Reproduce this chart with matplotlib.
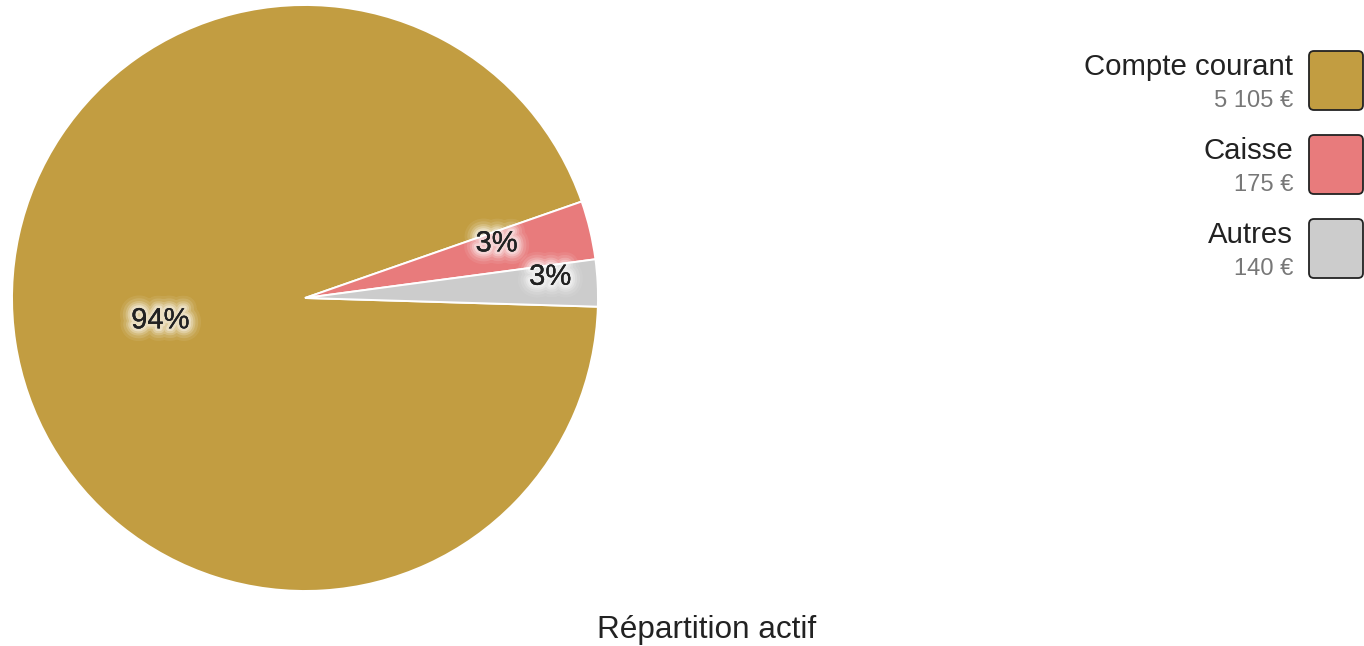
import numpy as np
import matplotlib
matplotlib.use("Agg")
import matplotlib.pyplot as plt
import matplotlib.patheffects as pe
from matplotlib.patches import FancyBboxPatch

# ---- data ----
categories = ["Compte courant", "Caisse", "Autres"]
values = [5105, 175, 140]
title = "Répartition actif"

# ---- styles ----
colors = ["#C29D41", "#E87B7C", "#CCCCCC"]
label_radius = [0.50, 0.68, 0.84]
label_angle_shift = [0.0, 2.5, 2.0]

W, H = 1364, 646
plt.rcParams['font.family'] = ['Liberation Sans', 'DejaVu Sans']
fig = plt.figure(figsize=(W / 100, H / 100), dpi=100)

# pie axes (center 305,298 ; radius 293 px)
cx, cy, r = 305, 298, 293
ax = fig.add_axes([(cx - r) / W, (H - cy - r) / H, 2 * r / W, 2 * r / H])
wedges, _ = ax.pie(values, colors=colors, startangle=-1.7, counterclock=False,
                   radius=1.0, wedgeprops=dict(edgecolor="white", linewidth=1.4))
ax.set_xlim(-1, 1)
ax.set_ylim(-1, 1)
ax.set_aspect("equal")
ax.axis("off")

glow = [pe.withStroke(linewidth=lw, foreground="white", alpha=a)
        for lw, a in [(18, 0.08), (14, 0.12), (10, 0.18), (7, 0.25), (4, 0.35)]] + [pe.Normal()]

total = sum(values)
for w, v, rr, sh in zip(wedges, values, label_radius, label_angle_shift):
    mid = np.deg2rad((w.theta1 + w.theta2) / 2 + sh)
    pct = f"{round(100 * v / total)}%"
    ax.text(rr * np.cos(mid), rr * np.sin(mid), pct, ha="center", va="center",
            fontsize=21, color="#222222", path_effects=glow)

# overlay in pixel coordinates for legend and title
ov = fig.add_axes([0, 0, 1, 1])
ov.set_xlim(0, W)
ov.set_ylim(H, 0)
ov.axis("off")

ov.text(707, 638, title, ha="center", va="baseline", fontsize=22.7, color="#222222")

row_gap = 84
for i, (cat, v, c) in enumerate(zip(categories, values, colors)):
    y0 = i * row_gap
    ov.text(1293, 75 + y0, cat, ha="right", va="baseline", fontsize=21.2, color="#222222")
    ov.text(1293, 107 + y0, f"{v:,}".replace(",", " ") + " €", ha="right",
            va="baseline", fontsize=17.1, color="#777777")
    box = FancyBboxPatch((1309, 51 + y0), 54, 59,
                         boxstyle="round,pad=0,rounding_size=5",
                         facecolor=c, edgecolor="#222222", linewidth=1.3)
    ov.add_patch(box)

fig.savefig("out.png", dpi=100, facecolor="white")
